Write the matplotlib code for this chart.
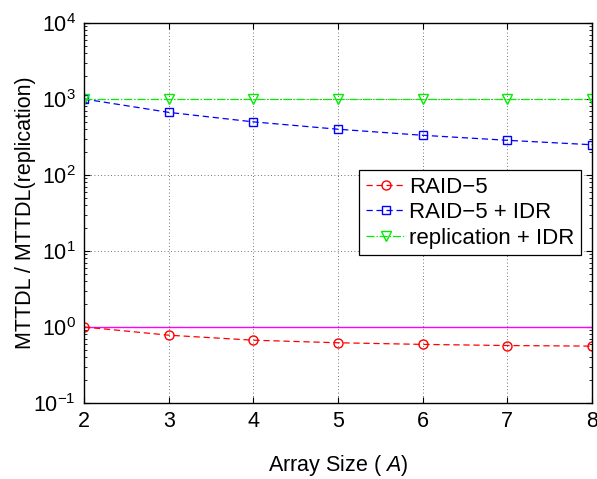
import numpy as np
import matplotlib
matplotlib.use("Agg")
import matplotlib.pyplot as plt
from matplotlib.ticker import LogLocator, NullFormatter

plt.rcParams['font.family'] = ['Liberation Sans', 'DejaVu Sans']
plt.rcParams['mathtext.fontset'] = 'custom'
plt.rcParams['mathtext.rm'] = 'Liberation Sans'
plt.rcParams['mathtext.it'] = 'Liberation Sans:italic'

# Data
array_size = [2, 3, 4, 5, 6, 7, 8]
raid5 = [1.0, 0.78, 0.67, 0.62, 0.59, 0.57, 0.56]
raid5_idr = [1000, 667, 500, 400, 333, 286, 250]
replication_idr = [1000, 1000, 1000, 1000, 1000, 1000, 1000]
baseline = [1, 1, 1, 1, 1, 1, 1]

fs = 15.5

fig = plt.figure(figsize=(5.97, 4.79), dpi=100)
ax = fig.add_axes([0.1407, 0.1587, 0.851, 0.7933])

ax.plot(array_size, baseline, '-', color='#ff00ff', lw=1.0)
ax.plot(array_size, raid5, '--', color='red', marker='o', mfc='none',
        ms=6.5, lw=0.9, dashes=(5, 3), label='RAID\u22125')
ax.plot(array_size, raid5_idr, '--', color='blue', marker='s', mfc='none',
        ms=5.5, lw=0.9, dashes=(5, 3), label='RAID\u22125 + IDR')
ax.plot(array_size, replication_idr, '-.', color='#00ee00', marker='v', mfc='none',
        ms=7, lw=0.9, label='replication + IDR')

ax.set_yscale('log')
ax.set_xlim(2, 8)
ax.set_ylim(1e-1, 1e4)
ax.set_xticks(array_size)
ax.yaxis.set_major_locator(LogLocator(base=10, numticks=10))
ax.yaxis.set_minor_locator(LogLocator(base=10, subs=np.arange(2, 10), numticks=20))
ax.yaxis.set_minor_formatter(NullFormatter())

ax.tick_params(which='both', direction='in', top=True, right=True, labelsize=fs)
ax.tick_params(which='major', length=4, pad=6)
ax.tick_params(which='minor', length=2)
ax.grid(True, which='major', linestyle=(0, (1, 3)), color='#444444', lw=0.6)
for s in ax.spines.values():
    s.set_linewidth(1.0)

ax.set_xlabel('Array Size ( $A$)', fontsize=fs, labelpad=15)
ax.set_ylabel('MTTDL / MTTDL(replication)', fontsize=fs, labelpad=-2)

leg = ax.legend(loc='upper left', bbox_to_anchor=(0.541, 0.613), fontsize=16,
                frameon=True, fancybox=False, edgecolor='black', framealpha=1,
                handlelength=1.8, handletextpad=0.15, borderpad=0.3,
                labelspacing=0.2, borderaxespad=0)
leg.get_frame().set_linewidth(0.9)

fig.savefig('out.png', dpi=100)
